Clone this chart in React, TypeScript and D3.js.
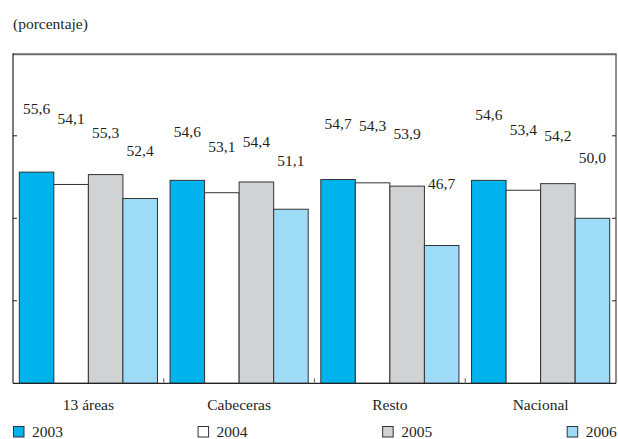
import React from "react";
import * as d3 from "d3";

// Categories, series and values
const categories = ["13 áreas", "Cabeceras", "Resto", "Nacional"];
const years = ["2003", "2004", "2005", "2006"];
const values2003 = [55.6, 54.6, 54.7, 54.6];
const values2004 = [54.1, 53.1, 54.3, 53.4];
const values2005 = [55.3, 54.4, 53.9, 54.2];
const values2006 = [52.4, 51.1, 46.7, 50.0];
const yTicks = [40, 50, 60];

// How far (px) each value label sits above its bar top
const labelLift = [
  [58, 43, 51, 60],
  [60, 41, 52, 55],
  [37, 35, 47, 43],
  [43, 43, 57, 55],
];

const seriesValues = [values2003, values2004, values2005, values2006];
const fills = ["#00b3ec", "#ffffff", "#d1d2d4", "#9edbf7"];

const W = 618;
const H = 439;
const plot = { left: 13, right: 616, top: 53.3, bottom: 383.3 };
const FONT =
  '"Liberation Serif", "Times New Roman", Tinos, "Nimbus Roman", "DejaVu Serif", serif';
const TEXT = "#231f20";

export default function App() {
  const x0 = d3
    .scaleBand<string>()
    .domain(categories)
    .range([plot.left, plot.right])
    .padding(0);
  const x1 = d3
    .scaleBand<string>()
    .domain(years)
    .range([6.3, x0.bandwidth() - 6.3])
    .padding(0);
  const y = d3.scaleLinear().domain([30, 70]).range([plot.bottom, plot.top]);

  const fmt = (v: number) => d3.format(".1f")(v).replace(".", ",");

  const legendX = d3
    .scalePoint<string>()
    .domain(years)
    .range([13, 566.7]);

  const textStyle = { fontFamily: FONT, fontSize: "15.5px", fill: TEXT };

  return (
    <svg
      width={W}
      height={H}
      style={{ position: "absolute", left: 0, top: 0, display: "block", fontFamily: FONT }}
    >
      <rect width={W} height={H} fill="#ffffff" />
      <text x={13} y={29} style={textStyle}>
        (porcentaje)
      </text>

      {/* bars */}
      {categories.map((cat, ci) => (
        <g key={cat} transform={`translate(${x0(cat)},0)`}>
          {years.map((yr, si) => {
            const v = seriesValues[si][ci];
            return (
              <rect
                key={yr}
                x={x1(yr)}
                y={y(v)}
                width={x1.bandwidth()}
                height={y(30) - y(v)}
                fill={fills[si]}
                stroke="#333"
                strokeWidth={1}
              />
            );
          })}
          {years.map((yr, si) => {
            const v = seriesValues[si][ci];
            return (
              <text
                key={"l" + yr}
                x={(x1(yr) as number) + x1.bandwidth() / 2}
                y={y(v) - labelLift[si][ci]}
                style={textStyle}
                textAnchor="middle"
              >
                {fmt(v)}
              </text>
            );
          })}
        </g>
      ))}

      {/* frame */}
      <line x1={plot.left} x2={plot.right} y1={plot.top + 1} y2={plot.top + 1} stroke="#6b6b6b" strokeWidth={2} />
      <line x1={plot.right} x2={plot.right} y1={plot.top} y2={plot.bottom} stroke="#6b6b6b" strokeWidth={1.5} />
      <line x1={plot.left} x2={plot.left} y1={plot.top} y2={plot.bottom} stroke="#222" strokeWidth={1.2} />
      <line x1={plot.left} x2={plot.right} y1={plot.bottom} y2={plot.bottom} stroke="#222" strokeWidth={1.2} />

      {/* y ticks, inward on both sides */}
      {yTicks.map((t) => (
        <g key={t}>
          <line x1={plot.left} x2={plot.left + 4} y1={y(t)} y2={y(t)} stroke="#222" strokeWidth={1} />
          <line x1={plot.right - 4} x2={plot.right} y1={y(t)} y2={y(t)} stroke="#222" strokeWidth={1} />
        </g>
      ))}

      {/* x ticks at category boundaries */}
      {categories.slice(1).map((cat) => (
        <line
          key={"t" + cat}
          x1={x0(cat)}
          x2={x0(cat)}
          y1={plot.bottom}
          y2={plot.bottom - 5}
          stroke="#777"
          strokeWidth={1.2}
        />
      ))}

      {/* category labels */}
      {categories.map((cat) => (
        <text
          key={"c" + cat}
          x={(x0(cat) as number) + x0.bandwidth() / 2}
          y={410}
          style={textStyle}
          textAnchor="middle"
        >
          {cat}
        </text>
      ))}

      {/* legend */}
      {years.map((yr, si) => {
        const lx = legendX(yr) as number;
        return (
          <g key={"lg" + yr}>
            <rect x={lx + 0.5} y={426.5} width={10.5} height={10.5} fill={fills[si]} stroke="#333" strokeWidth={1} />
            <text x={lx + 19} y={437} style={textStyle}>
              {yr}
            </text>
          </g>
        );
      })}
    </svg>
  );
}
